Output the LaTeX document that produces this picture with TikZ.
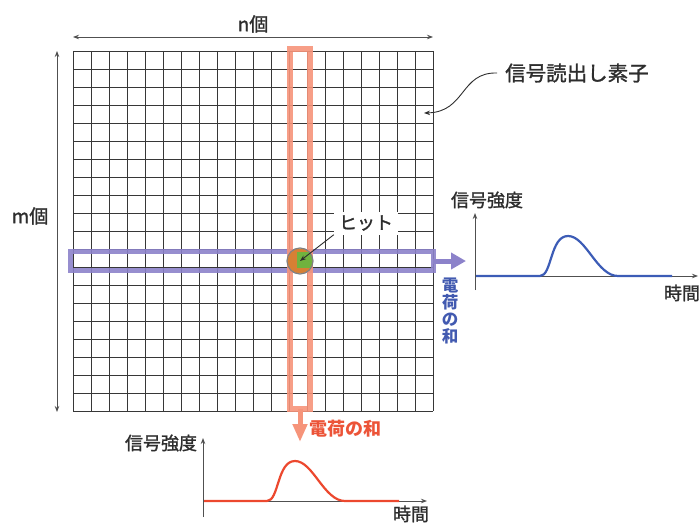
\documentclass[tikz,border=0pt]{standalone}
\usepackage{fontspec}
\setmainfont{Noto Sans CJK JP}
\newfontfamily\medfont{Noto Sans CJK JP}[FakeBold=1.4]
\usetikzlibrary{arrows.meta}
\definecolor{txtgray}{RGB}{45,45,45}
\definecolor{gridgray}{RGB}{55,55,55}
\definecolor{axisgray}{RGB}{80,80,80}
\definecolor{colred}{RGB}{246,148,122}
\definecolor{sumred}{RGB}{236,84,56}
\definecolor{curvered}{RGB}{236,72,46}
\definecolor{rowblue}{RGB}{140,130,202}
\definecolor{sumblue}{RGB}{66,90,176}
\definecolor{curveblue}{RGB}{60,92,182}
\definecolor{hitgreen}{RGB}{112,178,62}
\definecolor{hitorange}{RGB}{214,128,52}
\tikzset{
  every node/.style={
    inner sep=1.5pt,
    text=txtgray
  },
  lbl/.style={font=\medfont\fontsize{18}{20}\selectfont},
  biglbl/.style={font=\medfont\fontsize{20.5}{23}\selectfont},
  gridline/.style={gridgray,line width=0.9pt},
  axis/.style={axisgray,line width=0.9pt,-{Stealth[length=6pt,width=4.5pt]}},
  span/.style={axisgray,line width=0.9pt,{Stealth[length=6pt,width=4.5pt]}-{Stealth[length=6pt,width=4.5pt]}},
  ptr/.style={txtgray,line width=0.9pt,-{Stealth[length=6pt,width=4.5pt]}}
}

\begin{document}
\begin{tikzpicture}[x=1pt,y=-1pt]
    \useasboundingbox (0,0) rectangle (700,524);

    % 素子の格子 (20 x 20)
    \foreach \i in {0,...,20} {
        \draw[gridline] (73+18*\i,51) -- (73+18*\i,411);
        \draw[gridline] (73,51+18*\i) -- (433,51+18*\i);
    }

    % 寸法
    \coordinate (ntop-l) at (73,37);
    \coordinate (ntop-r) at (433,37);
    \draw[span] (ntop-l) -- (ntop-r);
    \node[lbl,font=\medfont\fontsize{19}{21}\selectfont] (nlbl) at (253,24) {n個};

    \coordinate (mleft-t) at (57,51);
    \coordinate (mleft-b) at (57,412);
    \draw[span] (mleft-t) -- (mleft-b);
    \node[lbl,font=\medfont\fontsize{19}{21}\selectfont] (mlbl) at (30,216) {m個};

    % 行 (青) と列 (赤)
    \draw[rowblue,line width=5pt,opacity=0.9] (70,251) rectangle (433,270);
    \draw[colred,line width=5.5pt,opacity=0.9] (290,49) rectangle (310,409);

    % ヒット
    \begin{scope}
        \clip (300,261) circle[radius=12.5pt];
        \fill[hitorange] (285,246) rectangle (316,276);
        \fill[hitgreen] (297,252) rectangle (316,268);
    \end{scope}
    \node[circle,draw=gray,line width=1.2pt,minimum size=26pt,inner sep=0pt] (hit) at (300,261) {};
    \node[lbl,fill=white,minimum width=64pt,minimum height=23pt,font=\medfont\fontsize{18}{20}\selectfont] (hitlbl) at (366,223) {ヒット};
    \draw[ptr] (hitlbl.south west) -- (hit.center);

    % 信号読出し素子
    \node[biglbl,anchor=west,inner xsep=8pt] (elemlbl) at (497,73) {信号読出し素子};
    \coordinate (elem) at (424,113);
    \draw[ptr] (elemlbl.west) .. controls (460,72) and (466,112) .. (elem);

    % 電荷の和 (行)
    \coordinate (rowout) at (433,261);
    \coordinate (rowtip) at (466,261);
    \draw[rowblue,line width=5pt,-{Triangle[length=15pt,width=16pt]}] (rowout) -- (rowtip);
    \node[font=\bfseries\fontsize{16.5}{17}\selectfont,text=sumblue,align=center] (rowsum) at (450,311) {電\\荷\\の\\和};

    % 電荷の和 (列)
    \coordinate (colout) at (300,409);
    \coordinate (coltip) at (300,442);
    \draw[colred,line width=5pt,-{Triangle[length=18pt,width=14pt]}] (colout) -- (coltip);
    \node[font=\bfseries\fontsize{18}{20}\selectfont,text=sumred,anchor=west] (colsum) at (308,429) {電荷の和};

    % 右のグラフ
    \coordinate (r-o) at (475,276);
    \draw[axis] (475,290) -- (475,213);
    \draw[axis] (r-o) -- (698,276);
    \node[lbl] (r-ylbl) at (487,200) {信号強度};
    \node[lbl] (r-xlbl) at (682,293) {時間};
    \draw[curveblue,line width=2.2pt]
        (476,276) -- (540,276) .. controls (552,276) and (550,236) .. (568,236)
        .. controls (586,236) and (597,276) .. (618,276) -- (672,276);

    % 下のグラフ
    \coordinate (b-o) at (203,501);
    \draw[axis] (203,517) -- (203,438);
    \draw[axis] (b-o) -- (427,501);
    \node[lbl] (b-ylbl) at (161,443) {信号強度};
    \node[lbl] (b-xlbl) at (411,514) {時間};
    \draw[curvered,line width=2.2pt]
        (204,501) -- (267,501) .. controls (279,501) and (277,461) .. (295,461)
        .. controls (313,461) and (324,501) .. (345,501) -- (399,501);
\end{tikzpicture}
\end{document}
